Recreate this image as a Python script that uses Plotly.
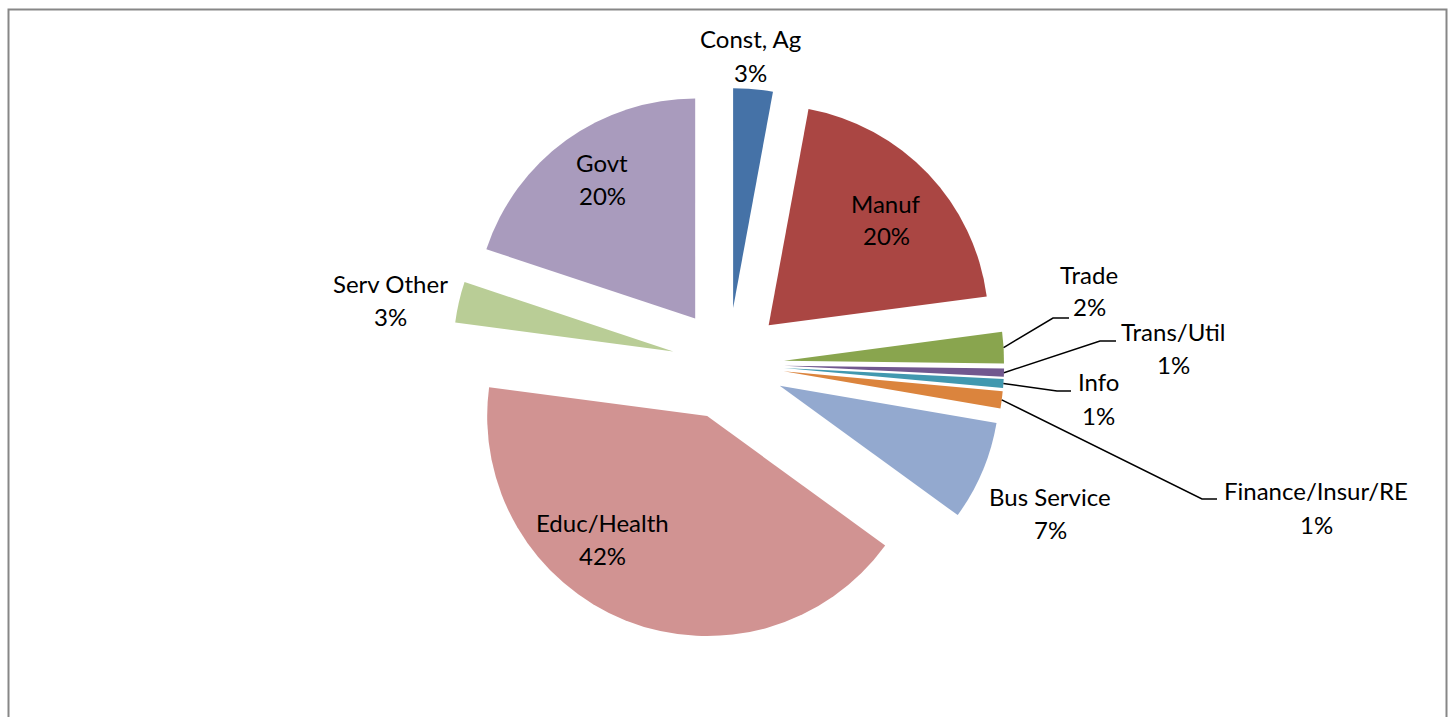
import math
import plotly.graph_objects as go

# Employment share by industry (percent)
sectors = ["Const, Ag", "Manuf", "Trade", "Trans/Util", "Info",
           "Finance/Insur/RE", "Bus Service", "Educ/Health", "Serv Other", "Govt"]
shares = [2.9, 20.0, 2.3, 0.6, 0.65, 1.25, 7.3, 42.1, 3.0, 19.9]
colors = ["#4572A7", "#AA4643", "#89A54E", "#71588F", "#4198AF",
          "#DB843D", "#93A9CF", "#D19392", "#B9CD96", "#A99BBD"]

W, H = 1450, 717
CX, CY = 728, 364          # pie centre in page pixels
RADIUS = 220               # slice radius in pixels
PULL = 0.255               # explode distance as a fraction of the radius

# label centre (first line) for each sector, in page pixels
label_pos = {
    "Const, Ag": (751, 39),
    "Manuf": (886, 203),
    "Trade": (1089, 274),
    "Trans/Util": (1173, 331),
    "Info": (1098, 382),
    "Finance/Insur/RE": (1316, 491),
    "Bus Service": (1050, 496),
    "Educ/Health": (602, 522),
    "Serv Other": (390, 283),
    "Govt": (602, 162),
}
LINE_GAP = 33

# leader lines: elbow point and end point of the horizontal tail
leaders = {
    "Trade": [(1053, 318), (1069, 318)],
    "Trans/Util": [(1100, 341), (1116, 341)],
    "Info": [(1057, 391), (1071, 391)],
    "Finance/Insur/RE": [(1202, 499), (1217, 499)],
}

FONT = "Lato"
FONT_SIZE = 24


def px(x):
    return x / W


def py(y):
    return 1 - y / H


half = RADIUS * (1 + PULL)
fig = go.Figure(go.Pie(
    labels=sectors,
    values=shares,
    sort=False,
    direction="clockwise",
    rotation=0,
    pull=PULL,
    marker=dict(colors=colors, line=dict(width=0)),
    textinfo="none",
    hoverinfo="label+percent",
    showlegend=False,
    domain=dict(x=[px(CX - half), px(CX + half)],
                y=[py(CY + half), py(CY - half)]),
))

# slice mid-angles from the data (clockwise from 12 o'clock)
total = sum(shares)
mid_angle = {}
acc = 0.0
for name, v in zip(sectors, shares):
    a0 = acc / total * 360
    acc += v
    a1 = acc / total * 360
    mid_angle[name] = (a0 + a1) / 2

annotations = []
for name, v in zip(sectors, shares):
    x, y = label_pos[name]
    pct = f"{round(v / total * 100)}%"
    for i, txt in enumerate([name, pct]):
        annotations.append(dict(
            x=px(x), y=py(y + i * LINE_GAP), xref="paper", yref="paper",
            text=txt, showarrow=False, xanchor="center", yanchor="middle",
            font=dict(family=FONT, size=FONT_SIZE, color="#000000"),
        ))

shapes = []
for name, pts in leaders.items():
    ang = math.radians(mid_angle[name])
    reach = RADIUS * (1 + PULL)
    sx = CX + reach * math.sin(ang)
    sy = CY - reach * math.cos(ang)
    path = [(sx, sy)] + pts
    d = "M " + " L ".join(f"{px(a)},{py(b)}" for a, b in path)
    shapes.append(dict(type="path", xref="paper", yref="paper", path=d,
                       line=dict(color="#000000", width=1.5)))

# chart area frame
shapes.append(dict(type="rect", xref="paper", yref="paper",
                   x0=px(8.5), x1=px(1446.5), y0=py(760), y1=py(9.5),
                   line=dict(color="#878787", width=2), fillcolor="rgba(0,0,0,0)"))

fig.update_layout(
    width=W, height=H,
    margin=dict(l=0, r=0, t=0, b=0),
    paper_bgcolor="#FFFFFF",
    plot_bgcolor="#FFFFFF",
    annotations=annotations,
    shapes=shapes,
)

fig.write_html("out.html")
